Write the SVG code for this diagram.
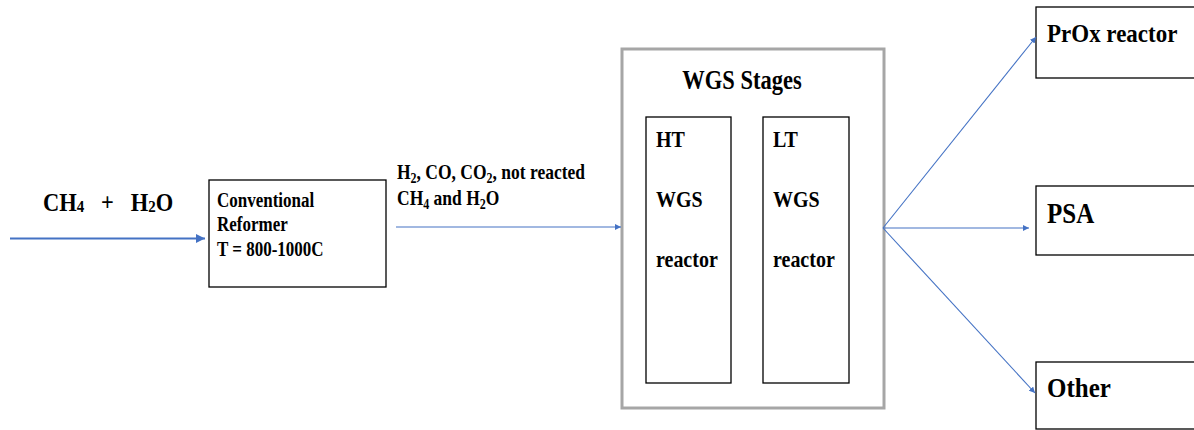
<svg xmlns="http://www.w3.org/2000/svg" width="1194" height="430" viewBox="0 0 1194 430">
<style>
.t{font-family:"Liberation Serif","Times New Roman",serif;font-weight:bold;fill:#000}
.box{fill:#fff;stroke:#000;stroke-width:1.3}
.outer{fill:#fff;stroke:#A6A6A6;stroke-width:3}
.con{stroke:#4472C4;fill:none}
</style>
<defs>
<marker id="ah" viewBox="0 0 10 10" refX="10" refY="5" markerWidth="6" markerHeight="6" markerUnits="userSpaceOnUse" orient="auto">
<path d="M0,0 L10,5 L0,10 z" fill="#4472C4"/>
</marker>
<marker id="ahb" viewBox="0 0 10 10" refX="10" refY="5" markerWidth="9" markerHeight="9" markerUnits="userSpaceOnUse" orient="auto">
<path d="M0,0 L10,5 L0,10 z" fill="#4472C4"/>
</marker>
</defs>
<rect width="1194" height="430" fill="#fff"/>

<g id="feed">
<text class="t" font-size="22.5" transform="translate(43,211) scale(1,1.12)">CH<tspan font-size="15" dy="1">4</tspan><tspan dy="-1" xml:space="preserve">   +   H</tspan><tspan font-size="15" dy="1">2</tspan><tspan dy="-1">O</tspan></text>
</g>

<g id="reformer">
<rect class="box" x="209" y="180" width="177" height="107"/>
<text class="t" font-size="17" transform="translate(217,207) scale(1,1.2)">Conventional</text>
<text class="t" font-size="17" transform="translate(217,231) scale(1,1.2)">Reformer</text>
<text class="t" font-size="17" transform="translate(217,256) scale(1,1.2)">T = 800-1000C</text>
</g>

<g id="midlabel">
<text class="t" font-size="17.5" transform="translate(397,179) scale(1,1.18)">H<tspan font-size="12" dy="3">2</tspan><tspan dy="-3">, CO, CO</tspan><tspan font-size="12" dy="3">2</tspan><tspan dy="-3">, not reacted</tspan></text>
<text class="t" font-size="17.5" transform="translate(397,205) scale(1,1.18)">CH<tspan font-size="12" dy="3">4</tspan><tspan dy="-3"> and H</tspan><tspan font-size="12" dy="3">2</tspan><tspan dy="-3">O</tspan></text>
</g>

<g id="wgs">
<rect class="outer" x="622" y="49" width="262" height="359"/>
<text class="t" font-size="22.5" text-anchor="middle" transform="translate(742,89) scale(1,1.18)">WGS Stages</text>
</g>

<g id="ht">
<rect class="box" x="646" y="117" width="85" height="266"/>
<text class="t" font-size="20" transform="translate(656,147) scale(1,1.18)">HT</text>
<text class="t" font-size="20" transform="translate(656,207) scale(1,1.18)">WGS</text>
<text class="t" font-size="20" transform="translate(656,267) scale(1,1.18)">reactor</text>
</g>

<g id="lt">
<rect class="box" x="763" y="117" width="86" height="266"/>
<text class="t" font-size="20" transform="translate(773,147) scale(1,1.18)">LT</text>
<text class="t" font-size="20" transform="translate(773,207) scale(1,1.18)">WGS</text>
<text class="t" font-size="20" transform="translate(773,267) scale(1,1.18)">reactor</text>
</g>

<g id="prox">
<rect class="box" x="1036" y="7" width="200" height="71"/>
<text class="t" font-size="23" transform="translate(1047,42) scale(1,1.12)">PrOx reactor</text>
</g>

<g id="psa">
<rect class="box" x="1036" y="186" width="200" height="69"/>
<text class="t" font-size="25" transform="translate(1047,223) scale(1,1.15)">PSA</text>
</g>

<g id="other">
<rect class="box" x="1036" y="362" width="200" height="67"/>
<text class="t" font-size="25" transform="translate(1047,397) scale(1,1.1)">Other</text>
</g>

<g id="connectors">
<line class="con" x1="10" y1="238.5" x2="205" y2="238.5" stroke-width="2.2" marker-end="url(#ahb)"/>
<line class="con" x1="396" y1="227" x2="621" y2="227" stroke-width="1.2" marker-end="url(#ah)"/>
<line class="con" x1="883" y1="228" x2="1036" y2="37" stroke-width="1.1" marker-end="url(#ah)"/>
<line class="con" x1="883" y1="228" x2="1029" y2="228" stroke-width="1.1" marker-end="url(#ah)"/>
<line class="con" x1="883" y1="228" x2="1035" y2="393" stroke-width="1.1" marker-end="url(#ah)"/>
</g>
</svg>
